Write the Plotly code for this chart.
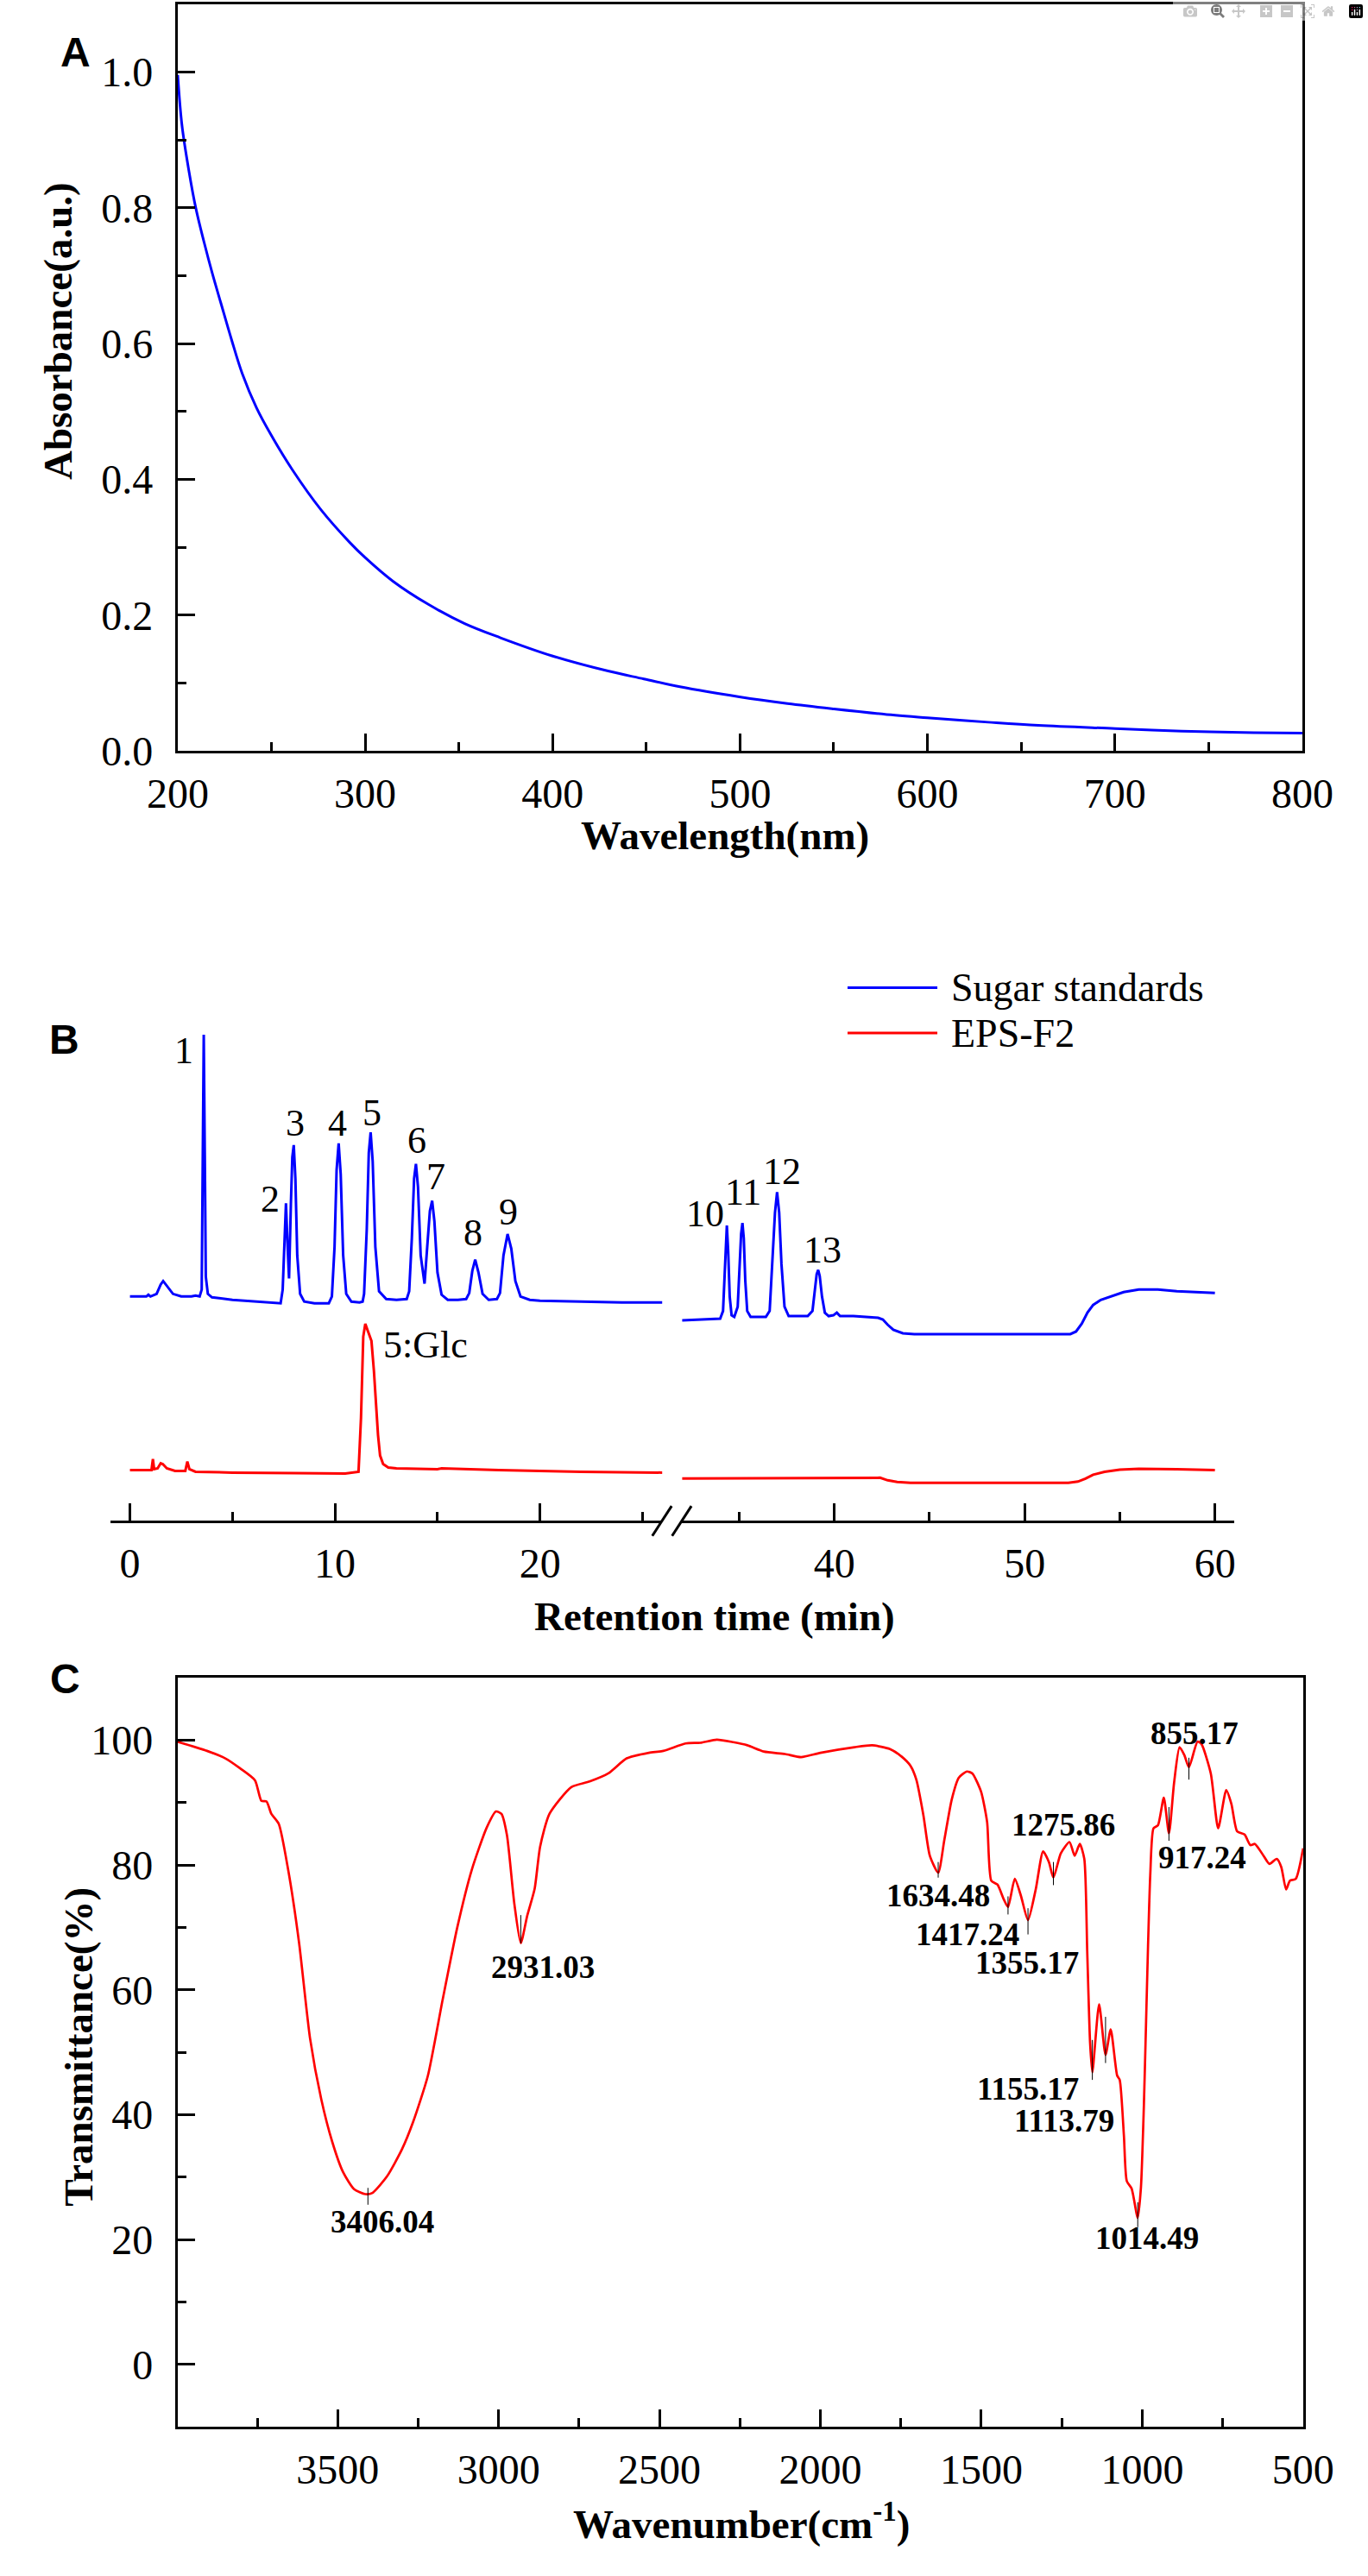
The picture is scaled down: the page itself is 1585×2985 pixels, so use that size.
import plotly.graph_objects as go

W, H = 1585, 2985

# ---- A: UV-vis absorbance ----
uv_wavelength = [200, 202.3, 206, 209.7, 214.1, 218.5, 223, 228.7, 234.4, 242.1, 249.7, 261.2, 276.5,
                 291.8, 299.9, 314.8, 333.9, 353.1, 372.2, 399.7, 429.6, 448.7, 467.9, 499.6, 525.3,
                 550.1, 582.7, 599.9, 632.4, 659.2, 700.1, 735.7, 774, 800]
uv_absorbance = [0.996, 0.921, 0.854, 0.799, 0.749, 0.703, 0.660, 0.606, 0.556, 0.505, 0.466, 0.414, 0.355,
                 0.307, 0.285, 0.250, 0.2155, 0.1875, 0.1666, 0.140, 0.1176, 0.106, 0.0944, 0.0795, 0.0696,
                 0.0617, 0.0524, 0.0487, 0.0422, 0.0375, 0.0329, 0.0291, 0.0268, 0.026]

# ---- B: HPLC chromatograms (arbitrary response units) ----
std_time_early = [0.0, 0.8, 0.9, 1.0, 1.3, 1.5, 1.62, 1.8, 2.1, 2.5, 3.0, 3.2, 3.4,
                  3.50, 3.55, 3.60, 3.65, 3.70, 3.80, 4.0, 5.0, 6.0, 7.0, 7.35,
                  7.45, 7.53, 7.61, 7.69, 7.76,
                  7.85, 7.92, 7.99, 8.07, 8.16, 8.3, 8.5, 9.0, 9.7,
                  9.85, 9.98, 10.08, 10.18, 10.28, 10.4, 10.55, 10.8, 11.2, 11.35,
                  11.42, 11.55, 11.65, 11.74, 11.84, 11.97, 12.15, 12.5, 13.0, 13.5,
                  13.62, 13.75, 13.86, 13.95, 14.05, 14.18, 14.37,
                  14.5, 14.63, 14.74, 14.85, 15.0, 15.2, 15.5, 16.0, 16.4,
                  16.55, 16.7, 16.84, 17.0, 17.2, 17.5, 17.9,
                  18.05, 18.22, 18.42, 18.6, 18.8, 19.05, 19.5, 20.0, 22.0, 24.0, 26.0]
std_signal_early = [262, 262, 264, 262, 265, 276, 280, 274, 265, 262, 262, 263, 262,
                    270, 420, 568, 430, 285, 265, 261, 258, 256, 254, 254,
                    270, 330, 371, 320, 283,
                    370, 425, 439, 400, 310, 265, 256, 254, 254,
                    262, 320, 410, 441, 405, 310, 265, 256, 255, 256,
                    265, 340, 430, 454, 420, 320, 268, 259, 258, 259,
                    268, 330, 400, 417, 390, 310, 277,
                    320, 362, 374, 350, 290, 264, 258, 258, 259,
                    266, 292, 305, 290, 265, 258, 259,
                    266, 310, 335, 318, 280, 262, 258, 257, 256, 255, 255]

eps_time_early = [0.0, 1.05, 1.12, 1.18, 1.35, 1.5, 1.6, 1.8, 2.2, 2.7, 2.8, 2.9, 3.2, 5.0, 8.0,
                  10.5, 11.15, 11.27, 11.38, 11.48, 11.6, 11.78, 11.9, 12.0, 12.1, 12.2, 12.35,
                  12.6, 13.0, 15.0, 15.2, 18.0, 22.0, 26.0]
eps_signal_early = [59, 59, 72, 60, 61, 67, 66, 61, 58, 58, 69, 60, 57, 56, 55.5,
                    55, 57, 120, 215, 230, 222, 210, 175, 140, 100, 76, 66,
                    62, 61, 60, 61, 59, 57, 56]

std_time_late = [32.0, 33.0, 34.0, 34.15, 34.2, 34.28, 34.35, 34.42, 34.5, 34.6, 34.74,
                 34.92, 35.03, 35.1, 35.17, 35.24, 35.32, 35.42, 35.6, 36.0, 36.4,
                 36.6, 36.75, 36.88, 36.99, 37.1, 37.22, 37.38, 37.6, 38.0, 38.6,
                 38.85, 38.98, 39.07, 39.15, 39.23, 39.35, 39.5, 39.7, 39.95, 40.13, 40.3,
                 41.0, 42.0, 42.3, 42.55, 42.8, 43.1, 43.6, 44.2, 52.0, 52.4, 52.7, 53.0,
                 53.3, 53.6, 54.0, 54.5, 55.2, 56.0, 57.0, 58.0, 60.0]
std_signal_late = [234, 235, 236, 245, 270, 320, 345, 315, 262, 240, 238,
                   250, 300, 335, 348, 330, 280, 245, 238, 238, 238,
                   245, 300, 360, 384, 360, 300, 250, 239, 239, 239,
                   245, 270, 288, 293, 286, 262, 243, 239, 240, 243, 239,
                   239, 238, 237, 235, 229, 223, 219, 218, 218, 218, 221, 230,
                   243, 252, 258, 262, 267, 270, 270, 268, 266]

eps_time_late = [32.0, 36.0, 42.0, 42.4, 42.8, 43.3, 44.0, 52.3, 52.8, 53.2, 53.6, 54.2,
                 55.0, 56.0, 58.0, 60.0]
eps_signal_late = [49, 49.5, 50.5, 50, 47, 45, 44, 44, 45.5, 49, 53.5, 57,
                   59.5, 60.5, 60, 59]

peak_names_early = ['1', '2', '3', '4', '5', '6', '7', '8', '9']
peak_names_late = ['10', '11', '12', '13']
glc_name = '5:Glc'

# label anchor points (time, response)
label_pos_early = [(2.61, 549), (6.82, 376), (8.04, 465), (10.12, 465), (11.82, 477),
                   (14.01, 444), (14.91, 402), (16.74, 336), (18.45, 361)]
label_pos_late = [(33.23, 359), (35.19, 384), (37.23, 408), (39.36, 316)]
glc_pos = (14.41, 205)

# ---- C: FT-IR ----
ir_wavenumber = [4000, 3906, 3849, 3803, 3757, 3737, 3721, 3706, 3683, 3654, 3620, 3586, 3551, 3517,
                 3483, 3449, 3414, 3392, 3346, 3300, 3266, 3220, 3174, 3128, 3083, 3037, 3008, 2991,
                 2974, 2951, 2931, 2911, 2888, 2871, 2842, 2774, 2717, 2659, 2602, 2533, 2488, 2419,
                 2373, 2322, 2271, 2227, 2176, 2110, 2060, 2000, 1894, 1839, 1784, 1748, 1720, 1702,
                 1680, 1660, 1634, 1615, 1592, 1570, 1545, 1528, 1501, 1482, 1469, 1450, 1430, 1417,
                 1396, 1377, 1355, 1331, 1308, 1290, 1276, 1253, 1226, 1210, 1194, 1180, 1171, 1162,
                 1155, 1134, 1114, 1098, 1078, 1070, 1057, 1048, 1033, 1014, 1004, 995, 988,
                 982, 975, 965, 951, 933, 917, 901, 884, 869, 855, 828, 816, 787, 764, 739, 723, 705,
                 682, 664, 650, 623, 605, 582, 568, 553, 541, 523, 500]
ir_transmittance = [99.8, 98.3, 97.1, 95.5, 93.6, 90.3, 90.2, 88.2, 86.6, 79.3, 67.6, 52.3, 42.5, 35.7,
                    30.8, 28.1, 27.3, 27.5, 30.2, 34.5, 38.8, 46.2, 58.4, 70.1, 79.3, 86.0, 88.6, 88.2,
                    84.8, 73.8, 67.5, 71.9, 76.2, 82.95, 88.2, 92.5, 93.4, 94.7, 97.1, 98.0, 98.3, 99.5,
                    99.6, 100.1, 99.7, 99.2, 98.2, 97.8, 97.3, 98.0, 98.9, 99.2, 98.6, 97.4, 95.9, 93.7,
                    88.0, 81.5, 78.8, 84.0, 90.5, 94.0, 95.0, 94.7, 91.8, 86.9, 77.5, 76.9, 74.5, 73.3,
                    77.8, 75.1, 71.2, 76.1, 82.2, 80.5, 78.0, 81.9, 83.7, 81.5, 83.4, 81.0, 66.3, 51.5,
                    46.8, 57.7, 49.6, 53.7, 46.3, 45.6, 36.7, 29.4, 28.2, 23.5, 28.4, 41.3, 55.0,
                    67.0, 78.5, 85.9, 86.4, 90.8, 85.1, 93.2, 98.9, 97.6, 95.7, 99.8, 99.4, 94.7, 85.9,
                    92.0, 89.8, 85.4, 84.9, 83.2, 83.4, 81.5, 80.2, 81.0, 79.7, 76.1, 77.5, 77.8, 82.7]

ir_peak_names = ['3406.04', '2931.03', '1634.48', '1417.24', '1355.17', '1275.86',
                 '1155.17', '1113.79', '1014.49', '917.24', '855.17']
ir_peak_pos = [3406, 2931, 1634, 1417, 1355, 1276, 1155, 1114, 1014, 917, 855]
ir_tick_top = [28.3, 72.0, 80.5, 75.0, 73.1, 80.5, 52.0, 55.7, 26.0, 89.3, 97.2]
ir_tick_bottom = [25.6, 67.5, 78.0, 72.1, 68.9, 76.8, 45.6, 48.3, 22.0, 83.9, 93.7]
ir_label_pos = [(3360, 22.9), (2862, 63.6), (1635, 75.1), (1542, 68.9), (1359, 64.3), (1244, 86.4),
                (1354, 44.2), (1242, 39.0), (984, 20.3), (814, 81.2), (837, 101.1)]

SERIF = '"Liberation Serif", "Times New Roman", Times, serif'
SANS = '"Liberation Sans", Arial, sans-serif'
BLUE = '#0000FF'
RED = '#FF0000'


def px(x):
    return x / W


def py(y):
    return 1 - y / H


def axis_style(**kw):
    d = dict(showline=True, linecolor='black', linewidth=3, ticks='inside', ticklen=20, tickwidth=3,
             tickcolor='black', showgrid=False, zeroline=False,
             tickfont=dict(family=SERIF, size=48, color='black'))
    d.update(kw)
    return d


def minor(step):
    return dict(dtick=step, ticks='inside', ticklen=10, tickwidth=3, tickcolor='black')


fig = go.Figure()

fig.add_trace(go.Scatter(x=uv_wavelength, y=uv_absorbance, mode='lines', xaxis='x', yaxis='y',
                         line=dict(color=BLUE, width=3, shape='spline', smoothing=1.0)))

fig.add_trace(go.Scatter(x=std_time_early, y=std_signal_early, mode='lines', xaxis='x2', yaxis='y2',
                         line=dict(color=BLUE, width=3)))
fig.add_trace(go.Scatter(x=eps_time_early, y=eps_signal_early, mode='lines', xaxis='x2', yaxis='y2',
                         line=dict(color=RED, width=3)))
fig.add_trace(go.Scatter(x=std_time_late, y=std_signal_late, mode='lines', xaxis='x3', yaxis='y2',
                         line=dict(color=BLUE, width=3)))
fig.add_trace(go.Scatter(x=eps_time_late, y=eps_signal_late, mode='lines', xaxis='x3', yaxis='y2',
                         line=dict(color=RED, width=3)))

fig.add_trace(go.Scatter(x=ir_wavenumber, y=ir_transmittance, mode='lines', xaxis='x4', yaxis='y3',
                         line=dict(color=RED, width=2.7, shape='spline', smoothing=0.6)))

# short leader lines under the labelled IR bands
lead_x, lead_y = [], []
for p, t, b in zip(ir_peak_pos, ir_tick_top, ir_tick_bottom):
    lead_x += [p, p, None]
    lead_y += [t, b, None]
fig.add_trace(go.Scatter(x=lead_x, y=lead_y, mode='lines', xaxis='x4', yaxis='y3',
                         line=dict(color='black', width=1)))

annotations = []
for name, (x, y) in zip(peak_names_early, label_pos_early):
    annotations.append(dict(x=x, y=y, xref='x2', yref='y2', text=name, showarrow=False,
                            font=dict(family=SERIF, size=44, color='black')))
for name, (x, y) in zip(peak_names_late, label_pos_late):
    annotations.append(dict(x=x, y=y, xref='x3', yref='y2', text=name, showarrow=False,
                            font=dict(family=SERIF, size=44, color='black')))
annotations.append(dict(x=glc_pos[0], y=glc_pos[1], xref='x2', yref='y2', text=glc_name, showarrow=False,
                        font=dict(family=SERIF, size=44, color='black')))
for name, (x, y) in zip(ir_peak_names, ir_label_pos):
    annotations.append(dict(x=x, y=y, xref='x4', yref='y3', text='<b>' + name + '</b>', showarrow=False,
                            font=dict(family=SERIF, size=37, color='black')))

# axis titles and panel letters
title_font = dict(family=SERIF, size=47, color='black')
for text, x, y, angle in [('<b>Absorbance(a.u.)</b>', 33, 387, -90),
                          ('<b>Wavelength(nm)</b>', 842, 977, 0),
                          ('<b>Retention time (min)</b>', 830, 1890, 0),
                          ('<b>Transmittance(%)</b>', 58, 2393, -90),
                          ('<b>Wavenumber(cm<sup>-1</sup>)</b>', 862, 2948, 0)]:
    annotations.append(dict(x=px(x), y=py(y), xref='paper', yref='paper', text=text, showarrow=False,
                            textangle=angle, font=title_font, xanchor='center', yanchor='middle'))
for text, x, y in [('A', 34, 32), ('B', 20, 1215), ('C', 21, 1992)]:
    annotations.append(dict(x=px(x), y=py(y), xref='paper', yref='paper', text='<b>' + text + '</b>',
                            showarrow=False, font=dict(family=SANS, size=48, color='black')))

# legend of panel B
shapes = []
for text, color, y in [('Sugar standards', BLUE, 1155), ('EPS-F2', RED, 1208)]:
    shapes.append(dict(type='line', xref='paper', yref='paper', x0=px(991), x1=px(1100), y0=py(y), y1=py(y),
                       line=dict(color=color, width=3)))
    annotations.append(dict(x=px(1115), y=py(y), xref='paper', yref='paper', text=text, showarrow=False,
                            xanchor='left', yanchor='middle', font=dict(family=SERIF, size=46, color='black')))

# axis break marks
for x0 in [754, 778]:
    shapes.append(dict(type='line', xref='paper', yref='paper', x0=px(x0), x1=px(x0 + 23.5),
                       y0=py(1796), y1=py(1761), line=dict(color='black', width=3)))

fig.update_layout(
    width=W, height=H, autosize=False,
    margin=dict(l=0, r=0, t=0, b=0),
    paper_bgcolor='white', plot_bgcolor='white',
    font=dict(family=SERIF, size=48, color='black'),
    showlegend=False,
    xaxis=axis_style(domain=[px(178), px(1543)], anchor='y', range=[200, 800], dtick=100, mirror=True,
                     ticklabelstandoff=5, minor=minor(50)),
    yaxis=axis_style(domain=[py(878), py(5)], anchor='x', range=[0, 1.1], dtick=0.2, tickformat='.1f',
                     mirror=True, ticklabelstandoff=16, minor=minor(0.1)),
    xaxis2=axis_style(domain=[px(96), px(766)], anchor='y2', range=[-0.965, 25.96],
                      tickmode='array', tickvals=[0, 10, 20], ticklabelstandoff=5, minor=minor(5)),
    xaxis3=axis_style(domain=[px(790), px(1460)], anchor='y2', range=[31.99, 61.0],
                      tickmode='array', tickvals=[40, 50, 60], ticklabelstandoff=5, minor=minor(5)),
    yaxis2=dict(domain=[py(1778), py(1195)], anchor='x2', range=[0, 583], visible=False),
    xaxis4=axis_style(domain=[px(178), px(1544)], anchor='y3', range=[3997, 500], mirror=True,
                      tickmode='array', tickvals=[3500, 3000, 2500, 2000, 1500, 1000, 500],
                      ticklabelstandoff=5, minor=minor(250)),
    yaxis3=axis_style(domain=[py(2838), py(1962)], anchor='x4', range=[-10, 110], mirror=True,
                      tickmode='array', tickvals=[0, 20, 40, 60, 80, 100], ticklabelstandoff=16,
                      minor=minor(10)),
    annotations=annotations,
    shapes=shapes,
)

fig.write_html("out.html", post_script="document.body.style.margin='0';")
